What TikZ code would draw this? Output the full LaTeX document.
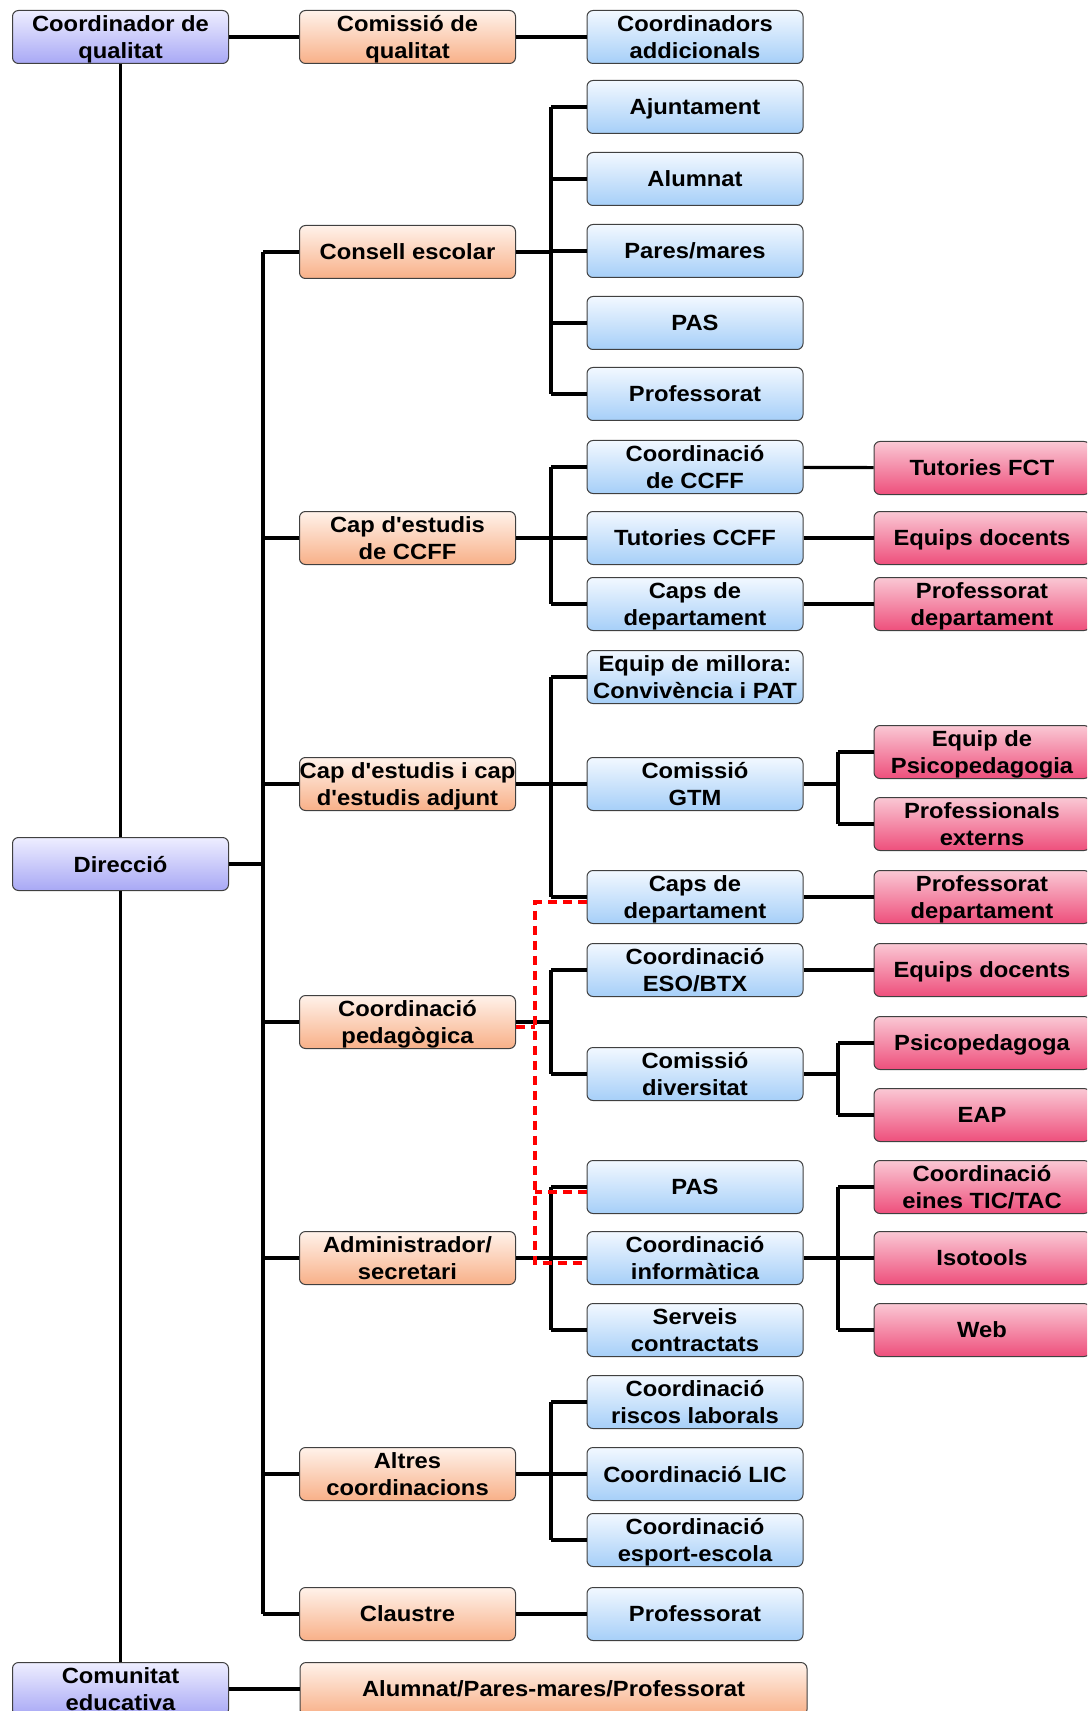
\documentclass[tikz,border=0pt]{standalone}
\usepackage{fontspec}
\newfontfamily\boxfont[FakeStretch=1.08]{Liberation Sans}
\definecolor{lilatop}{HTML}{EEEEFF}
\definecolor{lilabot}{HTML}{A8A8F5}
\definecolor{tarongtop}{HTML}{FFF2EA}
\definecolor{tarongbot}{HTML}{F8B088}
\definecolor{blautop}{HTML}{F2F8FF}
\definecolor{blaubot}{HTML}{A6CFF8}
\definecolor{rosatop}{HTML}{FAC8D4}
\definecolor{rosabot}{HTML}{EE4F7C}

\begin{document}
\begin{tikzpicture}[x=0.5pt,y=-0.5pt,
	caixa/.style={draw=black!75, line width=0.5pt, rounded corners=3pt, minimum width=108pt, minimum height=26.5pt, inner sep=0pt, align=center, text depth=0pt, font=\boxfont\bfseries\fontsize{11}{13.8}\selectfont},
	lila/.style={caixa, top color=lilatop, bottom color=lilabot},
	taronja/.style={caixa, top color=tarongtop, bottom color=tarongbot},
	blau/.style={caixa, top color=blautop, bottom color=blaubot},
	rosa/.style={caixa, top color=rosatop, bottom color=rosabot},
	lin/.style={line width=1.6pt},
	vermell/.style={red, line width=1.6pt, dash pattern=on 4.5pt off 3pt}]
				\useasboundingbox (0,0) rectangle (1087,1711);
				\clip (0,0) rectangle (1087,1711);
				% columna 1
				\node[lila] (cq) at (120.5, 37) {Coordinador de\\qualitat};
				\node[lila] (dir) at (120.5, 864) {Direcció};
				\node[lila] (comun) at (120.5, 1689) {Comunitat\\educativa};
				% columna 2
				\node[taronja] (comq) at (407.5, 37) {Comissió de\\qualitat};
				\node[taronja] (consell) at (407.5, 252) {Consell escolar};
				\node[taronja] (capccff) at (407.5, 538) {Cap d'estudis\\de CCFF};
				\node[taronja] (capest) at (407.5, 784) {Cap d'estudis i cap\\d'estudis adjunt};
				\node[taronja] (pedag) at (407.5, 1022) {Coordinació\\pedagògica};
				\node[taronja] (admin) at (407.5, 1258) {Administrador/\\secretari};
				\node[taronja] (altres) at (407.5, 1474) {Altres\\coordinacions};
				\node[taronja] (claustre) at (407.5, 1614) {Claustre};
				\node[taronja, minimum width=253.5pt] (amp) at (553.5, 1689) {Alumnat/Pares-mares/Professorat};
				% columna 3
				\node[blau] (caddic) at (695, 37) {Coordinadors\\addicionals};
				\node[blau] (ajunt) at (695, 107) {Ajuntament};
				\node[blau] (alumn) at (695, 179) {Alumnat};
				\node[blau] (pares) at (695, 251) {Pares/mares};
				\node[blau] (pas1) at (695, 323) {PAS};
				\node[blau] (prof1) at (695, 394) {Professorat};
				\node[blau] (coordccff) at (695, 467) {Coordinació\\de CCFF};
				\node[blau] (tutccff) at (695, 538) {Tutories CCFF};
				\node[blau] (caps1) at (695, 604) {Caps de\\departament};
				\node[blau] (millora) at (695, 677) {Equip de millora:\\Convivència i PAT};
				\node[blau] (gtm) at (695, 784) {Comissió\\GTM};
				\node[blau] (caps2) at (695, 897) {Caps de\\departament};
				\node[blau] (eso) at (695, 970) {Coordinació\\ESO/BTX};
				\node[blau] (divers) at (695, 1074) {Comissió\\diversitat};
				\node[blau] (pas2) at (695, 1187) {PAS};
				\node[blau] (inform) at (695, 1258) {Coordinació\\informàtica};
				\node[blau] (serveis) at (695, 1330) {Serveis\\contractats};
				\node[blau] (riscos) at (695, 1402) {Coordinació\\riscos laborals};
				\node[blau] (lic) at (695, 1474) {Coordinació LIC};
				\node[blau] (esport) at (695, 1540) {Coordinació\\esport-escola};
				\node[blau] (prof2) at (695, 1614) {Professorat};
				% columna 4
				\node[rosa] (tutfct) at (982, 468) {Tutories FCT};
				\node[rosa] (equips1) at (982, 538) {Equips docents};
				\node[rosa] (profdep1) at (982, 604) {Professorat\\departament};
				\node[rosa] (psico) at (982, 752) {Equip de\\Psicopedagogia};
				\node[rosa] (extern) at (982, 824) {Professionals\\externs};
				\node[rosa] (profdep2) at (982, 897) {Professorat\\departament};
				\node[rosa] (equips2) at (982, 970) {Equips docents};
				\node[rosa] (psicop) at (982, 1043) {Psicopedagoga};
				\node[rosa] (eap) at (982, 1115) {EAP};
				\node[rosa] (tic) at (982, 1187) {Coordinació\\eines TIC/TAC};
				\node[rosa] (isot) at (982, 1258) {Isotools};
				\node[rosa] (web) at (982, 1330) {Web};
				% troncs
				\coordinate (t1) at (263, 0);
				\coordinate (t2) at (551, 0);
				\coordinate (t3) at (838, 0);
				\coordinate (rd) at (535, 0);
				% enllacos
				\draw[lin] (cq) -- (dir);
				\draw[lin] (dir) -- (comun);
				\draw[lin] (cq) -- (comq);
				\draw[lin] (comq) -- (caddic);
				\draw[lin] (comun) -- (amp);
				\draw[lin] (claustre) -- (prof2);
				\draw[lin] (dir) -- (dir -| t1);
				\draw[lin] (consell -| t1) -- (claustre -| t1);
				\foreach \n in {consell, capccff, capest, pedag, admin, altres, claustre}
					\draw[lin] (\n -| t1) -- (\n);
				% consell escolar
				\draw[lin] (consell) -- (consell -| t2);
				\draw[lin] (ajunt -| t2) -- (prof1 -| t2);
				\foreach \n in {ajunt, alumn, pares, pas1, prof1}
					\draw[lin] (\n -| t2) -- (\n);
				% CCFF
				\draw[lin] (capccff) -- (capccff -| t2);
				\draw[lin] (coordccff -| t2) -- (caps1 -| t2);
				\foreach \n in {coordccff, tutccff, caps1}
					\draw[lin] (\n -| t2) -- (\n);
				\draw[lin] (coordccff) -- (tutfct);
				\draw[lin] (tutccff) -- (equips1);
				\draw[lin] (caps1) -- (profdep1);
				% cap d'estudis
				\draw[lin] (capest) -- (capest -| t2);
				\draw[lin] (millora -| t2) -- (caps2 -| t2);
				\foreach \n in {millora, gtm, caps2}
					\draw[lin] (\n -| t2) -- (\n);
				\draw[lin] (gtm) -- (gtm -| t3);
				\draw[lin] (psico -| t3) -- (extern -| t3);
				\foreach \n in {psico, extern}
					\draw[lin] (\n -| t3) -- (\n);
				\draw[lin] (caps2) -- (profdep2);
				% coordinacio pedagogica
				\draw[lin] (pedag) -- (pedag -| t2);
				\draw[lin] (eso -| t2) -- (divers -| t2);
				\foreach \n in {eso, divers}
					\draw[lin] (\n -| t2) -- (\n);
				\draw[lin] (eso) -- (equips2);
				\draw[lin] (divers) -- (divers -| t3);
				\draw[lin] (psicop -| t3) -- (eap -| t3);
				\foreach \n in {psicop, eap}
					\draw[lin] (\n -| t3) -- (\n);
				% administrador
				\draw[lin] (admin) -- (admin -| t2);
				\draw[lin] (pas2 -| t2) -- (serveis -| t2);
				\foreach \n in {pas2, inform, serveis}
					\draw[lin] (\n -| t2) -- (\n);
				\draw[lin] (inform) -- (inform -| t3);
				\draw[lin] (tic -| t3) -- (web -| t3);
				\foreach \n in {tic, isot, web}
					\draw[lin] (\n -| t3) -- (\n);
				% altres
				\draw[lin] (altres) -- (altres -| t2);
				\draw[lin] (riscos -| t2) -- (esport -| t2);
				\foreach \n in {riscos, lic, esport}
					\draw[lin] (\n -| t2) -- (\n);
				% discontinues
				\draw[vermell] ([yshift=-2.5pt]caps2.west) -| ([yshift=-2.5pt]inform.west -| rd) -- ([yshift=-2.5pt]inform.west);
				\draw[vermell] ([yshift=-2.5pt]pedag.east) -- ([yshift=-2.5pt]pedag.east -| rd);
				\draw[vermell] ([yshift=-2.5pt]pas2.west) -- ([yshift=-2.5pt]pas2.west -| rd);
			\end{tikzpicture}
\end{document}
